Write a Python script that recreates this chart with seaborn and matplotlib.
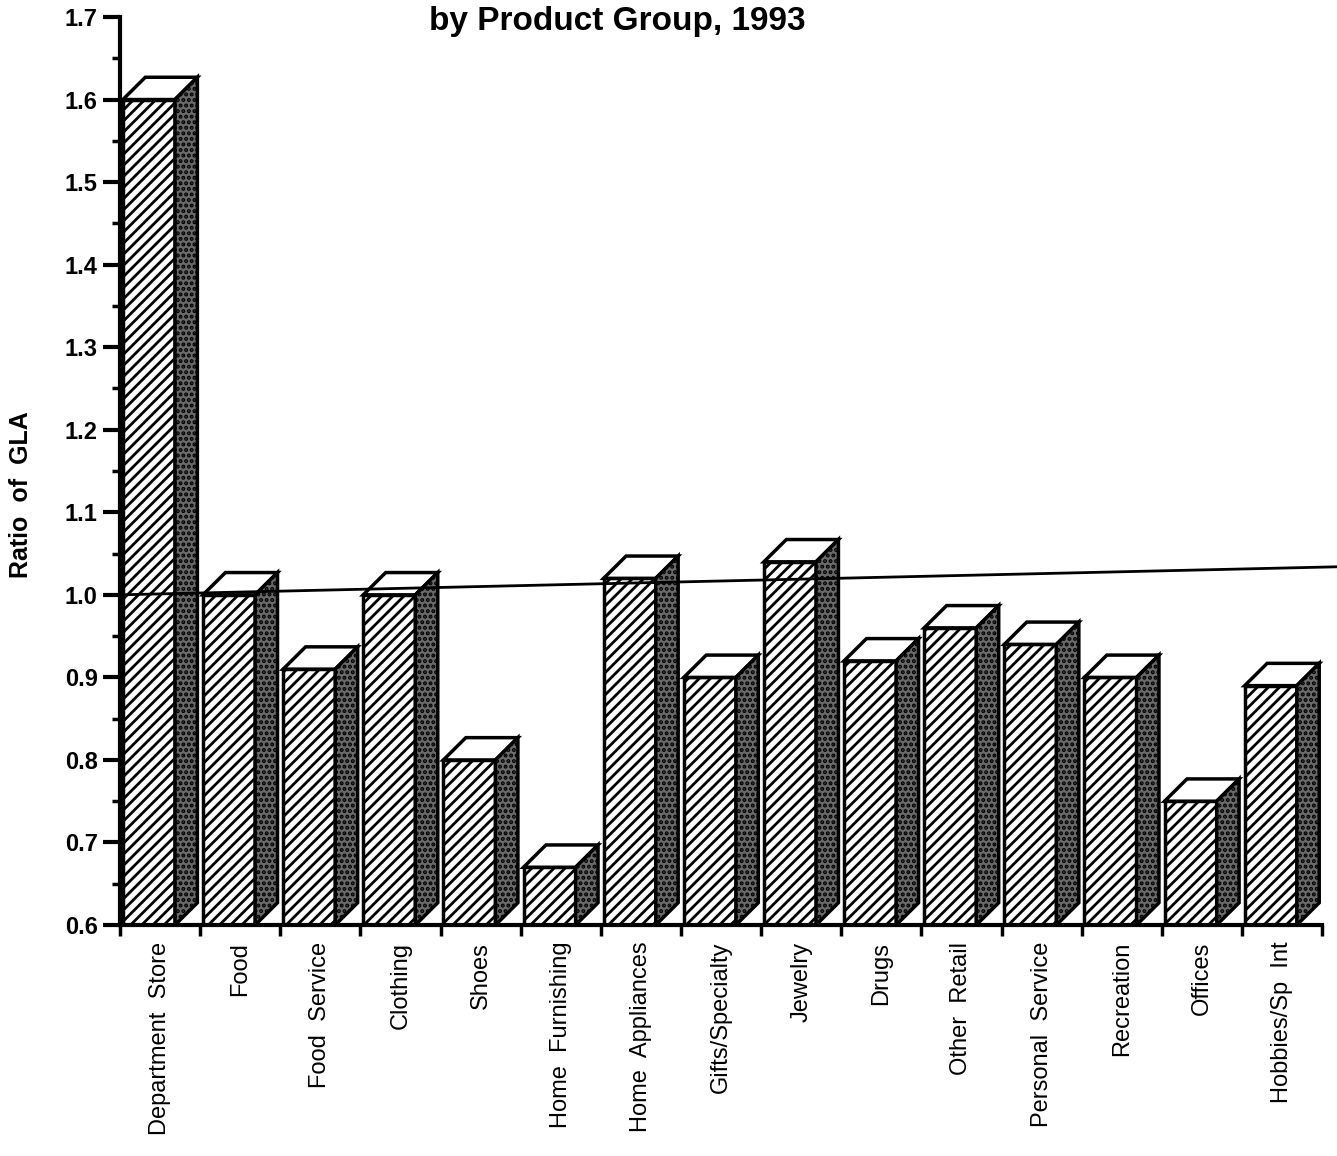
import matplotlib
matplotlib.use('Agg')
import matplotlib.pyplot as plt
from matplotlib.patches import Polygon
from matplotlib.ticker import MultipleLocator, FixedLocator
import seaborn as sns

# data
categories = ['Department  Store', 'Food', 'Food  Service', 'Clothing', 'Shoes',
              'Home  Furnishing', 'Home  Appliances', 'Gifts/Specialty', 'Jewelry',
              'Drugs', 'Other  Retail', 'Personal  Service', 'Recreation', 'Offices',
              'Hobbies/Sp  Int']
ratio_gla = [1.60, 1.00, 0.91, 1.00, 0.80, 0.67, 1.02, 0.90, 1.04, 0.92,
             0.96, 0.94, 0.90, 0.75, 0.89]
ref_line_x = [-0.5, 14.7]
ref_line_y = [1.0, 1.034]
y_ticks = [0.6, 0.7, 0.8, 0.9, 1.0, 1.1, 1.2, 1.3, 1.4, 1.5, 1.6, 1.7]

sns.set_style('ticks')
plt.rcParams['font.family'] = ['Liberation Sans', 'DejaVu Sans']
plt.rcParams['hatch.linewidth'] = 2.0
plt.rcParams['text.color'] = 'black'
plt.rcParams['axes.labelcolor'] = 'black'
plt.rcParams['xtick.color'] = 'black'
plt.rcParams['ytick.color'] = 'black'

fig = plt.figure(figsize=(13.37, 11.56), dpi=100)
ax = fig.add_axes([0.0898, 0.1998, 0.905, 0.7855])

sns.barplot(x=categories, y=ratio_gla, color='white', edgecolor='black',
            linewidth=2.5, width=0.65, hatch='///', saturation=1, ax=ax)

ymin, ymax = 0.6, 1.7
ax.set_ylim(ymin, ymax)
ax.set_xlim(-0.5, 14.6)

# fake 3D: shift fronts left, then add top and side faces
dx, dy = 0.28, 0.027
bars = [p for p in ax.patches][:len(ratio_gla)]
for p, v in zip(bars, ratio_gla):
    p.set_x(p.get_x() - 0.14)
    x0 = p.get_x()
    x1 = x0 + p.get_width()
    top = Polygon([(x0, v), (x0 + dx, v + dy), (x1 + dx, v + dy), (x1, v)],
                  closed=True, facecolor='white', edgecolor='black', linewidth=2.5, zorder=3)
    side = Polygon([(x1, ymin), (x1 + dx, ymin + dy), (x1 + dx, v + dy), (x1, v)],
                   closed=True, facecolor='#6a6a6a', edgecolor='black', linewidth=2.5,
                   hatch='...', zorder=3)
    ax.add_patch(top)
    ax.add_patch(side)

# reference line at 1.0
ax.plot(ref_line_x, ref_line_y, color='black', linewidth=2, zorder=5, clip_on=False)

# axes styling
sns.despine(ax=ax, top=True, right=True)
ax.spines['left'].set_linewidth(3)
ax.spines['bottom'].set_linewidth(3)
ax.spines['left'].set_color('black')
ax.spines['bottom'].set_color('black')
ax.spines['bottom'].set_bounds(-0.5, 14.5)

ax.yaxis.set_major_locator(FixedLocator(y_ticks))
ax.yaxis.set_minor_locator(MultipleLocator(0.05))
ax.set_yticklabels([f'{t:.1f}' for t in y_ticks], fontsize=17, fontweight='bold')
ax.tick_params(axis='y', which='major', length=12, width=3, pad=4)
ax.tick_params(axis='y', which='minor', length=6, width=2.5)

ax.xaxis.set_minor_locator(FixedLocator([i - 0.5 for i in range(len(categories) + 1)]))
ax.tick_params(axis='x', which='major', length=0, pad=12)
ax.tick_params(axis='x', which='minor', length=8, width=2.5)
ax.set_xticks(range(len(categories)))
ax.set_xticklabels(categories, rotation=90, fontsize=17, va='top', ha='center')

ax.set_ylabel('Ratio  of  GLA', fontsize=18, fontweight='bold')
ax.yaxis.set_label_coords(-0.072, 0.474)
ax.set_xlabel('')

fig.text(0.4615, 0.981, 'by Product Group, 1993', ha='center', va='center',
         fontsize=24, fontweight='bold')

fig.savefig('out.png', dpi=100)
